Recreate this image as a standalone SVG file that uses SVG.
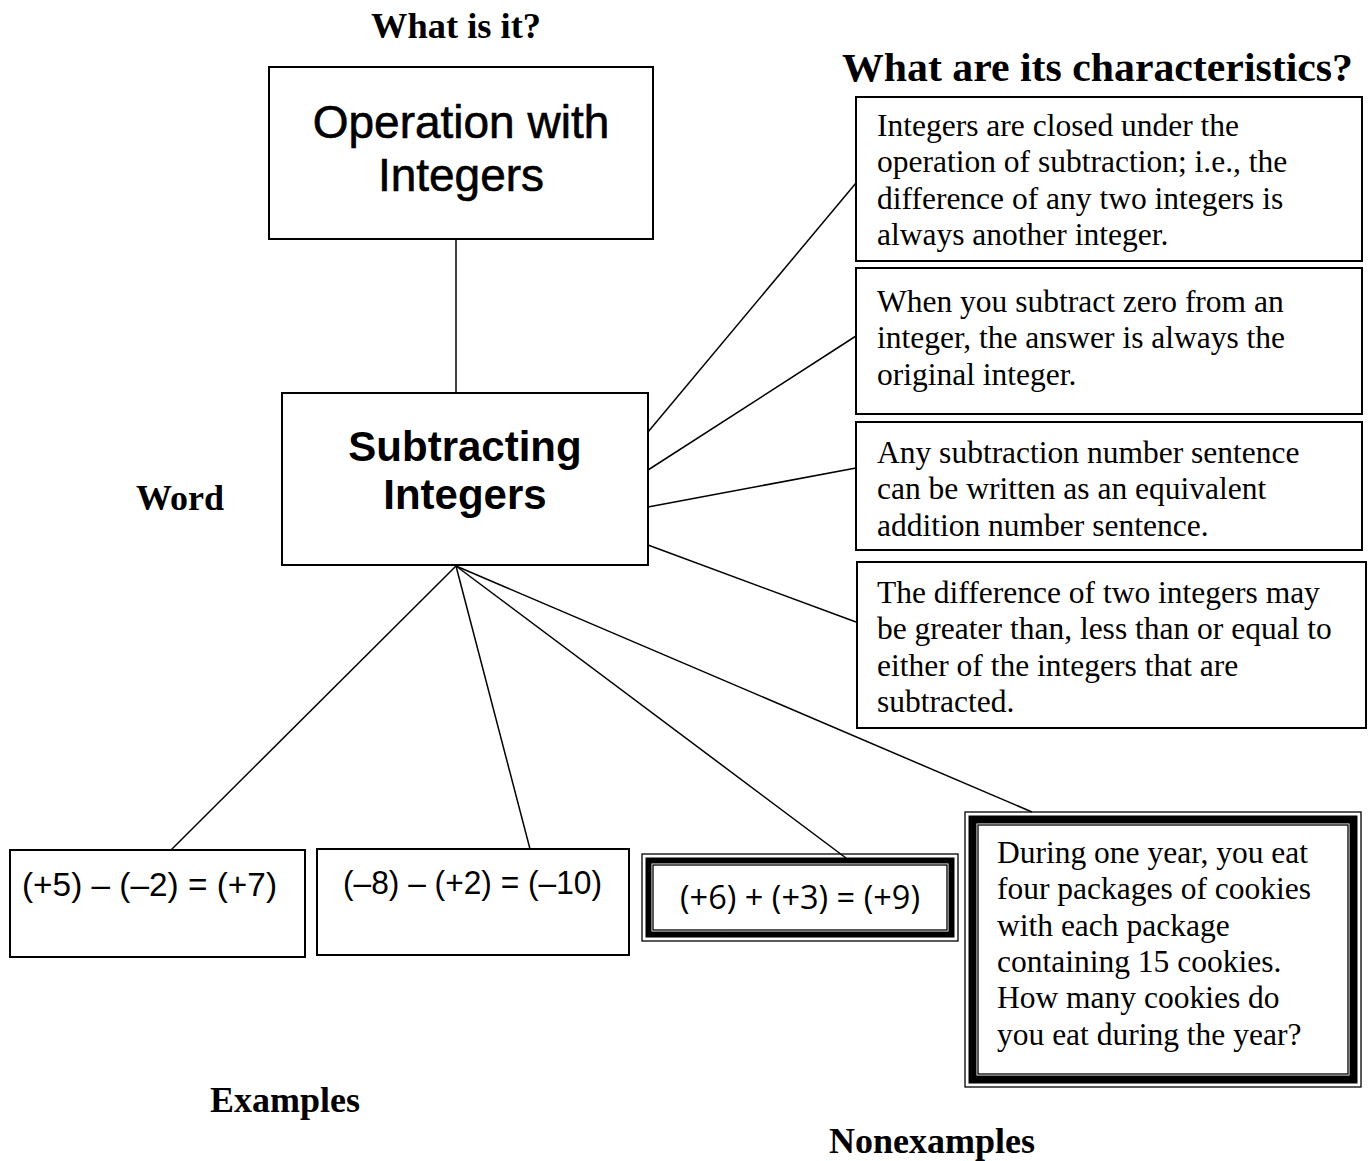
<svg xmlns="http://www.w3.org/2000/svg" width="1370" height="1161" viewBox="0 0 1370 1161">
<style>
.box{fill:#fff;stroke:#000;stroke-width:2}
.thin{fill:none;stroke:#000;stroke-width:1.3}
.conn{stroke:#000;stroke-width:1.5;fill:none}
.lbl{font-family:"Liberation Serif","Times New Roman",serif;font-weight:bold;font-size:36px;fill:#000}
.body{font-family:"Liberation Serif","Times New Roman",serif;font-size:31.5px;fill:#000}
.big{font-family:"Liberation Sans",Arial,sans-serif;font-size:46px;fill:#000;text-anchor:middle;stroke:#000;stroke-width:0.6}
.bigb{font-family:"Liberation Sans",Arial,sans-serif;font-size:42px;font-weight:bold;fill:#000;text-anchor:middle}
.eq{font-family:"Liberation Sans Narrow","Liberation Sans",Arial,sans-serif;font-size:34px;fill:#000}
.eq2{font-family:"Open Sans","Noto Sans",sans-serif;font-size:32px;fill:#000}
</style>
<rect width="1370" height="1161" fill="#fff"/>
<g id="connectors">
<line class="conn" x1="456" y1="239" x2="456" y2="393"/>
<line class="conn" x1="648" y1="432" x2="856" y2="183"/>
<line class="conn" x1="648" y1="470" x2="856" y2="336"/>
<line class="conn" x1="648" y1="507" x2="856" y2="468"/>
<line class="conn" x1="648" y1="545" x2="856" y2="622"/>
<line class="conn" x1="456" y1="566" x2="171" y2="850"/>
<line class="conn" x1="456" y1="566" x2="530" y2="849"/>
<line class="conn" x1="456" y1="566" x2="846" y2="858"/>
<line class="conn" x1="456" y1="566" x2="1032" y2="812"/>
</g>
<g id="labels">
<text class="lbl" x="371" y="38" textLength="170" lengthAdjust="spacingAndGlyphs">What is it?</text>
<text class="lbl" x="842" y="81" style="font-size:39px" textLength="511" lengthAdjust="spacingAndGlyphs">What are its characteristics?</text>
<text class="lbl" x="136" y="510">Word</text>
<text class="lbl" x="210" y="1112">Examples</text>
<text class="lbl" x="829" y="1153">Nonexamples</text>
</g>
<g id="node-operation">
<rect class="box" x="269" y="67" width="384" height="172"/>
<text class="big" x="461" y="138">Operation with</text>
<text class="big" x="461" y="191">Integers</text>
</g>
<g id="node-subtracting">
<rect class="box" x="282" y="393" width="366" height="172"/>
<text class="bigb" x="465" y="461">Subtracting</text>
<text class="bigb" x="465" y="509">Integers</text>
</g>
<g id="node-char1">
<rect class="box" x="856" y="97" width="506" height="164"/>
<text class="body" x="877" y="136">Integers are closed under the</text>
<text class="body" x="877" y="172">operation of subtraction; i.e., the</text>
<text class="body" x="877" y="209">difference of any two integers is</text>
<text class="body" x="877" y="245">always another integer.</text>
</g>
<g id="node-char2">
<rect class="box" x="856" y="268" width="506" height="146"/>
<text class="body" x="877" y="312">When you subtract zero from an</text>
<text class="body" x="877" y="348">integer, the answer is always the</text>
<text class="body" x="877" y="385">original integer.</text>
</g>
<g id="node-char3">
<rect class="box" x="856" y="422" width="506" height="128"/>
<text class="body" x="877" y="463">Any subtraction number sentence</text>
<text class="body" x="877" y="499">can be written as an equivalent</text>
<text class="body" x="877" y="536">addition number sentence.</text>
</g>
<g id="node-char4">
<rect class="box" x="857" y="562" width="509" height="166"/>
<text class="body" x="877" y="603">The difference of two integers may</text>
<text class="body" x="877" y="639">be greater than, less than or equal to</text>
<text class="body" x="877" y="676">either of the integers that are</text>
<text class="body" x="877" y="712">subtracted.</text>
</g>
<g id="node-example1">
<rect class="box" x="10" y="850" width="295" height="107"/>
<text class="eq" x="22" y="896" textLength="255" lengthAdjust="spacingAndGlyphs">(+5) – (–2) = (+7)</text>
</g>
<g id="node-example2">
<rect class="box" x="317" y="849" width="312" height="106"/>
<text class="eq" x="343" y="894" textLength="259" lengthAdjust="spacingAndGlyphs">(–8) – (+2) = (–10)</text>
</g>
<g id="node-nonexample1">
<rect class="thin" x="642" y="854" width="316" height="87"/>
<rect x="648.5" y="860.5" width="303" height="74" fill="#fff" stroke="#000" stroke-width="6"/>
<rect class="thin" x="653" y="865" width="294" height="65"/>
<text class="eq2" x="680" y="909" textLength="240" lengthAdjust="spacingAndGlyphs">(+6) + (+3) = (+9)</text>
</g>
<g id="node-nonexample2">
<rect class="thin" x="965" y="812" width="396" height="275"/>
<rect x="972.5" y="819.5" width="381" height="260" fill="#fff" stroke="#000" stroke-width="8"/>
<rect class="thin" x="978" y="825" width="370" height="249"/>
<text class="body" x="997" y="863">During one year, you eat</text>
<text class="body" x="997" y="899">four packages of cookies</text>
<text class="body" x="997" y="936">with each package</text>
<text class="body" x="997" y="972">containing 15 cookies.</text>
<text class="body" x="997" y="1008">How many cookies do</text>
<text class="body" x="997" y="1045">you eat during the year?</text>
</g>
</svg>
